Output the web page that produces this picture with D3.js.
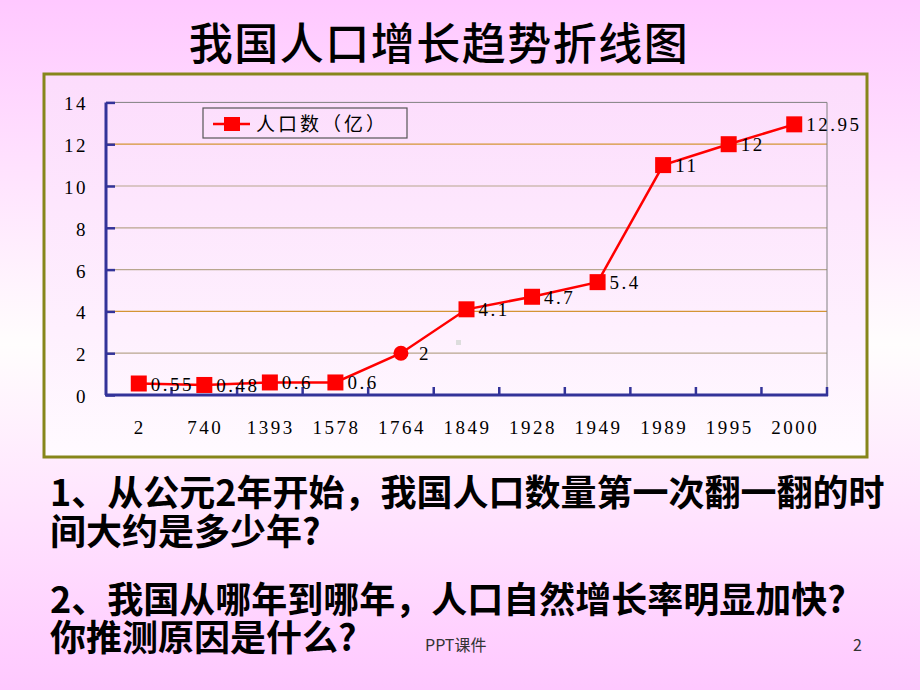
<!DOCTYPE html>
<html>
<head>
<meta charset="utf-8">
<script src="https://cdn.jsdelivr.net/npm/d3@7"></script>
<style>
  html, body { margin: 0; padding: 0; }
  body { width: 920px; height: 690px; overflow: hidden; }
</style>
</head>
<body>
<div id="slide"></div>
<script>
// Chart data
const years = ['2', '740', '1393', '1578', '1764', '1849', '1928', '1949', '1989', '1995', '2000'];
const population = [0.55, 0.48, 0.6, 0.6, 2, 4.1, 4.7, 5.4, 11, 12, 12.95];
const valueLabels = ['0.55', '0.48', '0.6', '0.6', '2', '4.1', '4.7', '5.4', '11', '12', '12.95'];
const markerShapes = ['square', 'square', 'square', 'square', 'circle', 'square', 'square', 'square', 'square', 'square', 'square'];
const yTicks = [0, 2, 4, 6, 8, 10, 12, 14];
const seriesName = '人口数（亿）';
const titleText = '我国人口增长趋势折线图';
const questions = [
    '1、从公元2年开始，我国人口数量第一次翻一翻的时',
    '间大约是多少年?',
    '2、我国从哪年到哪年，人口自然增长率明显加快?',
    '你推测原因是什么?'
];

const width = 920, height = 690;
const serif = '"Liberation Serif", "DejaVu Serif", serif';
const cjk = '"Noto Sans CJK SC", "Noto Sans", sans-serif';

const svg = d3.select('#slide')
    .append('svg')
    .attr('width', width)
    .attr('height', height);

// Gradients for slide and chart panel
const defs = svg.append('defs');
const slideGrad = defs.append('linearGradient')
    .attr('id', 'slideBg').attr('x1', 0).attr('y1', 0).attr('x2', 0).attr('y2', 1);
slideGrad.append('stop').attr('offset', '0%').attr('stop-color', '#ffc8ff');
slideGrad.append('stop').attr('offset', '50%').attr('stop-color', '#fffdfd');
slideGrad.append('stop').attr('offset', '100%').attr('stop-color', '#ffc8ff');

const panelGrad = defs.append('linearGradient')
    .attr('id', 'panelBg').attr('x1', 0).attr('y1', 0).attr('x2', 0).attr('y2', 1);
panelGrad.append('stop').attr('offset', '0%').attr('stop-color', '#fcdcfc');
panelGrad.append('stop').attr('offset', '100%').attr('stop-color', '#fffaff');

svg.append('rect')
    .attr('width', width).attr('height', height)
    .attr('fill', 'url(#slideBg)');

// Title
svg.append('text')
    .attr('x', 439).attr('y', 60)
    .attr('text-anchor', 'middle')
    .attr('font-family', cjk)
    .attr('font-size', 44)
    .attr('font-weight', 500)
    .attr('letter-spacing', 1.5)
    .attr('fill', '#000')
    .text(titleText);

// Chart panel
svg.append('rect')
    .attr('x', 44).attr('y', 74)
    .attr('width', 823).attr('height', 383)
    .attr('fill', 'url(#panelBg)')
    .attr('stroke', '#86861a')
    .attr('stroke-width', 3);

const plot = { left: 106, right: 827, top: 102.4, bottom: 395 };

const x = d3.scaleBand()
    .domain(years)
    .range([plot.left, plot.right])
    .padding(0);

const y = d3.scaleLinear()
    .domain([0, 14])
    .range([plot.bottom, plot.top]);

const g = svg.append('g');

// Gridlines
g.append('g')
    .selectAll('line')
    .data(yTicks.filter(d => d > 0 && d < 14))
    .enter()
    .append('line')
    .attr('x1', plot.left).attr('x2', plot.right)
    .attr('y1', d => y(d)).attr('y2', d => y(d))
    .attr('stroke', d => (d % 8 === 4) ? '#d49434' : '#b8a68e')
    .attr('stroke-width', 1.2);

// Top and right border of plot area
g.append('path')
    .attr('d', `M${plot.left},${y(14)}H${plot.right}V${plot.bottom}`)
    .attr('fill', 'none')
    .attr('stroke', '#808080')
    .attr('stroke-width', 1);

// Y axis
const yAxis = g.append('g')
    .attr('transform', `translate(${plot.left},0)`)
    .call(d3.axisRight(y).tickValues(yTicks).tickSize(9).tickFormat(''));
yAxis.select('.domain').remove();
yAxis.selectAll('.tick line').attr('stroke', '#333399').attr('stroke-width', 2.5);
g.append('line')
    .attr('x1', plot.left).attr('x2', plot.left)
    .attr('y1', y(14)).attr('y2', plot.bottom)
    .attr('stroke', '#333399').attr('stroke-width', 3);

g.append('g')
    .selectAll('text')
    .data(yTicks)
    .enter()
    .append('text')
    .attr('x', 88)
    .attr('y', d => y(d) + 8)
    .attr('text-anchor', 'end')
    .attr('font-family', serif)
    .attr('font-size', 19)
    .attr('letter-spacing', 2.5)
    .attr('fill', '#000')
    .text(d => d);

// X axis
const boundaries = years.map(d => x(d)).concat([plot.right]).slice(1);
g.append('g')
    .selectAll('line')
    .data(boundaries)
    .enter()
    .append('line')
    .attr('x1', d => d).attr('x2', d => d)
    .attr('y1', plot.bottom - 8).attr('y2', plot.bottom + 1)
    .attr('stroke', '#333399').attr('stroke-width', 2.5);
g.append('line')
    .attr('x1', plot.left - 1).attr('x2', plot.right + 1)
    .attr('y1', plot.bottom).attr('y2', plot.bottom)
    .attr('stroke', '#333399').attr('stroke-width', 3);

g.append('g')
    .selectAll('text')
    .data(years)
    .enter()
    .append('text')
    .attr('x', d => x(d) + x.bandwidth() / 2 + 1)
    .attr('y', 434)
    .attr('text-anchor', 'middle')
    .attr('font-family', serif)
    .attr('font-size', 19)
    .attr('letter-spacing', 2.5)
    .attr('fill', '#000')
    .text(d => d);

// stray grey dot visible in the original
g.append('rect')
    .attr('x', 456).attr('y', 340)
    .attr('width', 5).attr('height', 5)
    .attr('fill', '#dddddd');

// Series
const points = years.map((yr, i) => ({
    year: yr,
    value: population[i],
    label: valueLabels[i],
    shape: markerShapes[i],
    cx: x(yr) + x.bandwidth() / 2,
    cy: y(population[i])
}));

g.append('path')
    .datum(points)
    .attr('fill', 'none')
    .attr('stroke', '#ff0000')
    .attr('stroke-width', 2.5)
    .attr('d', d3.line().x(d => d.cx).y(d => d.cy));

const marks = g.append('g')
    .selectAll('g')
    .data(points)
    .enter()
    .append('g')
    .attr('transform', d => `translate(${d.cx},${d.cy})`);

marks.filter(d => d.shape === 'square')
    .append('rect')
    .attr('x', -8).attr('y', -8)
    .attr('width', 16).attr('height', 16)
    .attr('fill', '#ff0000');

marks.filter(d => d.shape === 'circle')
    .append('circle')
    .attr('r', 7.5)
    .attr('fill', '#ff0000');

marks.append('text')
    .attr('x', d => d.shape === 'circle' ? 18 : 12)
    .attr('y', 7)
    .attr('font-family', serif)
    .attr('font-size', 19)
    .attr('letter-spacing', 2.5)
    .attr('fill', '#000')
    .text(d => d.label);

// Legend
const legend = svg.append('g');
legend.append('rect')
    .attr('x', 203).attr('y', 108)
    .attr('width', 204).attr('height', 30)
    .attr('fill', 'none')
    .attr('stroke', '#555555')
    .attr('stroke-width', 1.2);
legend.append('line')
    .attr('x1', 213).attr('x2', 250)
    .attr('y1', 124).attr('y2', 124)
    .attr('stroke', '#ff0000').attr('stroke-width', 2.5);
legend.append('rect')
    .attr('x', 224).attr('y', 117)
    .attr('width', 16).attr('height', 14)
    .attr('fill', '#ff0000');
legend.append('text')
    .attr('x', 256).attr('y', 131)
    .attr('font-family', cjk)
    .attr('font-size', 19)
    .attr('letter-spacing', 3)
    .attr('fill', '#000')
    .text(seriesName);

// Questions below the chart
const qBaselines = [506, 545, 613, 651];
svg.append('g')
    .selectAll('text')
    .data(questions)
    .enter()
    .append('text')
    .attr('x', 50)
    .attr('y', (d, i) => qBaselines[i])
    .attr('font-family', cjk)
    .attr('font-size', 36)
    .attr('font-weight', 700)
    .attr('fill', '#000')
    .text(d => d);

// Footer
svg.append('text')
    .attr('x', 425).attr('y', 651)
    .attr('font-family', cjk)
    .attr('font-size', 16)
    .attr('fill', '#333')
    .text('PPT课件');
svg.append('text')
    .attr('x', 862).attr('y', 651)
    .attr('text-anchor', 'end')
    .attr('font-family', cjk)
    .attr('font-size', 16)
    .attr('fill', '#333')
    .text('2');
</script>
</body>
</html>
